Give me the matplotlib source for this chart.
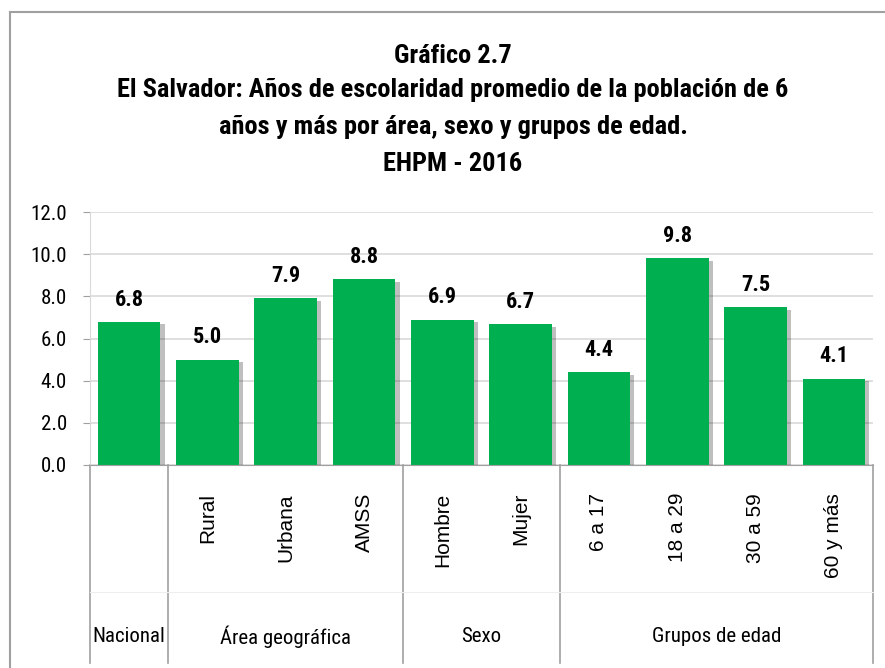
import os
import matplotlib
matplotlib.use("Agg")
import matplotlib.pyplot as plt
import matplotlib.patheffects as pe
from matplotlib import font_manager
from matplotlib.transforms import blended_transform_factory
from matplotlib.lines import Line2D

# data
categories = ["", "Rural", "Urbana", "AMSS", "Hombre", "Mujer",
              "6 a 17", "18 a 29", "30 a 59", "60 y más"]
values = [6.8, 5.0, 7.9, 8.8, 6.9, 6.7, 4.4, 9.8, 7.5, 4.1]
groups = ["Nacional", "Área geográfica", "Sexo", "Grupos de edad"]
group_sizes = [1, 3, 2, 4]
yticks = [0, 2, 4, 6, 8, 10, 12]

title_lines = ["Gráfico 2.7",
               "El Salvador: Años de escolaridad promedio de la población de 6",
               "años y más por área, sexo y grupos de edad.",
               "EHPM - 2016"]
title_baselines = [63, 97, 134, 171]  # pixel rows from the top

# find a narrow font (Arial Narrow look-alike) among installed files
files = {os.path.basename(f.fname): f.fname for f in font_manager.fontManager.ttflist}
candidates = [("LiberationSansNarrow-Regular.ttf", "LiberationSansNarrow-Bold.ttf"),
              ("RobotoCondensed-Regular.ttf", "RobotoCondensed-Bold.ttf"),
              ("FiraSansCondensed-Regular.ttf", "FiraSansCondensed-Bold.ttf"),
              ("DejaVuSansCondensed.ttf", "DejaVuSansCondensed-Bold.ttf")]
nar_reg = nar_bold = None
for r, b in candidates:
    if r in files and b in files:
        nar_reg = font_manager.FontProperties(fname=files[r])
        nar_bold = font_manager.FontProperties(fname=files[b])
        break
if nar_reg is None:
    nar_reg = font_manager.FontProperties(family="DejaVu Sans")
    nar_bold = font_manager.FontProperties(family="DejaVu Sans", weight="bold")


def fp(base, size):
    p = base.copy()
    p.set_size(size)
    return p


green = "#00B050"
grid_c = "#d9d9d9"
axis_c = "#a0a0a0"

fig = plt.figure(figsize=(8.85, 6.68), dpi=100)
ax = fig.add_axes([90 / 885, 1 - 465 / 668, 783 / 885, 253 / 668])

x = list(range(len(values)))
bars = ax.bar(x, values, width=0.8, color=green, zorder=3)
for b in bars:
    b.set_path_effects([pe.SimplePatchShadow(offset=(3, -2), shadow_rgbFace="black", alpha=0.25),
                        pe.Normal()])

for xi, v in zip(x, values):
    ax.annotate(f"{v:.1f}", (xi, v), xytext=(0, 8), textcoords="offset points",
                ha="center", va="bottom", fontproperties=fp(nar_bold, 16), zorder=4)

ax.set_xlim(-0.5, len(values) - 0.5)
ax.set_ylim(0, 12)
ax.set_yticks(yticks)
ax.set_yticklabels([f"{t:.1f}" for t in yticks], fontproperties=fp(nar_reg, 15))
ax.tick_params(axis="y", length=5, color=axis_c, pad=11.5)
ax.set_xticks([])
ax.yaxis.grid(True, color=grid_c, linewidth=1.2, zorder=0)
for s in ["top", "right"]:
    ax.spines[s].set_visible(False)
ax.spines["left"].set_color(grid_c)
ax.spines["bottom"].set_color(axis_c)
ax.spines["bottom"].set_zorder(5)

# multi-level category axis below the plot
tr = blended_transform_factory(ax.transData, ax.transAxes)
y_bot = -198 / 253
y_mid = -127 / 253
for xi, c in zip(x, categories):
    if c:
        ax.text(xi, -28 / 253, c, rotation=90, ha="center", va="top",
                fontsize=15, family="Liberation Sans", transform=tr)

start = -0.5
bounds = [start]
for g, n in zip(groups, group_sizes):
    end = start + n
    ax.text((start + end) / 2, -172 / 253, g, ha="center", va="center",
            fontproperties=fp(nar_reg, 15), transform=tr)
    bounds.append(end)
    start = end
for bnd in bounds:
    ax.add_line(Line2D([bnd, bnd], [0, y_bot], transform=tr, color=axis_c,
                       linewidth=1.2, clip_on=False))
ax.add_line(Line2D([-0.5, len(values) - 0.5], [y_mid, y_mid], transform=tr,
                   color="#eeeeee", linewidth=0.8, clip_on=False))

for line, yb in zip(title_lines, title_baselines):
    fig.text(453 / 885, 1 - yb / 668, line, ha="center", va="baseline",
             fontproperties=fp(nar_bold, 19))

# outer frame of the chart
fig.add_artist(Line2D([10 / 885, 10 / 885], [0, 1 - 12 / 668], color="#a0a0a0", linewidth=1.5))
fig.add_artist(Line2D([10 / 885, 1], [1 - 12 / 668, 1 - 12 / 668], color="#a0a0a0", linewidth=1.5))

fig.savefig("out.png", dpi=100)
